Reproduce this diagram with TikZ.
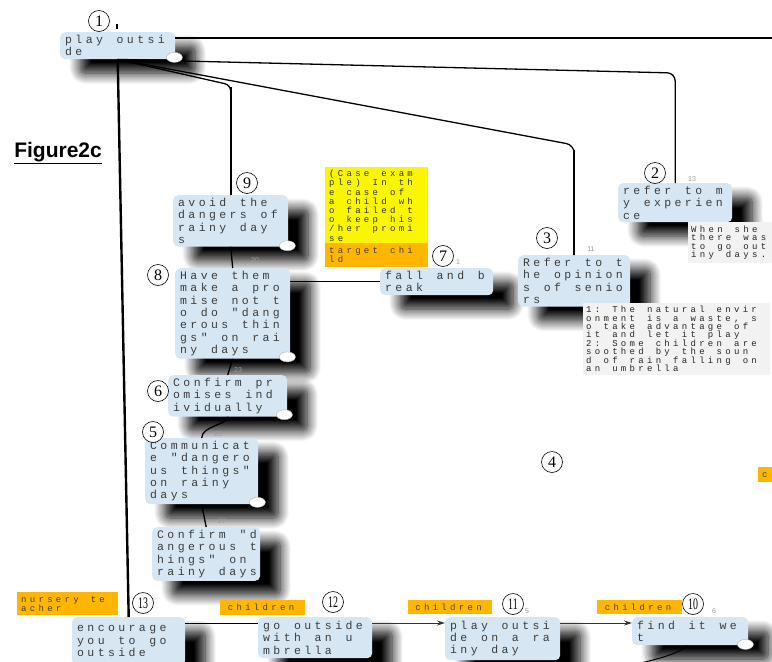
\documentclass[tikz,border=0pt]{standalone}
\usepackage{fontspec}
\usepackage{graphicx}
\usetikzlibrary{shadows.blur,arrows.meta,calc}
\setmainfont{Liberation Serif}
\newfontfamily\monofam{Liberation Mono}
\newfontfamily\labelsans{Liberation Sans}
\newfontfamily\numserif{Liberation Serif}

\definecolor{boxblue}{RGB}{214,231,243}
\definecolor{tagorange}{RGB}{255,182,0}
\definecolor{caseyellow}{RGB}{250,245,0}
\definecolor{notegrey}{RGB}{242,242,242}
\definecolor{inktext}{RGB}{60,60,60}

% Fixed-pitch cell typesetting: every character (spaces included) gets a
% cell of width #1; lines are separated by |.
\ExplSyntaxOn
\bool_new:N \l_cell_first_bool
\NewDocumentCommand\celltext{m m}{
  \seq_set_split:Nnn \l_tmpa_seq {|} {#2}
  \bool_set_true:N \l_cell_first_bool
  \seq_map_inline:Nn \l_tmpa_seq
    {
      \bool_if:NF \l_cell_first_bool { \\ }
      \bool_set_false:N \l_cell_first_bool
      \str_map_inline:nn {##1} { \makebox[#1][l]{####1} }
    }
}
\ExplSyntaxOff
\newcommand{\bt}[1]{\celltext{10.3pt}{#1}}
\newcommand{\st}[1]{\celltext{8.7pt}{#1}}

\tikzset{
  box/.style={rectangle, rounded corners=5pt, fill=boxblue, anchor=north west,
    align=left, inner xsep=5pt, inner ysep=3pt, text=inktext,
    font=\monofam\fontsize{11.5}{12.3}\selectfont,
    blur shadow={shadow xshift=20pt, shadow yshift=-14pt, shadow blur radius=11pt,
      shadow blur steps=14, shadow opacity=100}},
  tag/.style={rectangle, fill=tagorange, anchor=north west, align=left,
    inner xsep=4pt, inner ysep=1pt, text=black!75,
    font=\monofam\fontsize{9}{9}\selectfont},
  note/.style={rectangle, fill=notegrey, anchor=north west, align=left,
    inner xsep=3pt, inner ysep=3pt, text=black!85,
    font=\monofam\fontsize{9}{8.4}\selectfont},
  casebox/.style={rectangle, fill=caseyellow, anchor=north west, align=left,
    inner xsep=4pt, inner ysep=3pt, text=black!80,
    font=\monofam\fontsize{9}{9.2}\selectfont},
  circnum/.style={circle, draw=black, fill=white, line width=0.6pt,
    minimum size=21pt, inner sep=0pt, font=\numserif\fontsize{16}{16}\selectfont},
  gnum/.style={inner sep=0pt, text=black!40, font=\labelsans\fontsize{7}{7}\selectfont},
  link/.style={draw=black, line width=1.3pt},
  trunk/.style={draw=black, line width=2.4pt},
  flow/.style={draw=black!80, line width=1pt, -{Stealth[length=8pt,width=5pt]}},
  knob/.style={fill=white, draw=black!30, line width=0.4pt},
}

\newcommand{\twodig}[1]{\scalebox{0.62}[1]{#1}}

\begin{document}
\begin{tikzpicture}[x=1pt,y=-1pt]
\useasboundingbox (0,0) rectangle (772,662);
\clip (0,0) rectangle (772,662);

% caption
\node[anchor=base east, inner sep=0pt, font=\labelsans\bfseries\fontsize{21}{21}\selectfont]
  (fig) at (102,157) {\underline{Figure2c}};

% action boxes
\node[box, text width=105pt, minimum height=27pt] (n1) at (60,32) {\bt{play outsi|de}};
\node[box, text width=105pt, minimum height=50pt] (n9) at (173,195) {\bt{avoid the|dangers of|rainy day|s}};
\node[box, text width=105pt, minimum height=85pt] (n8) at (175,268)
  {\bt{Have them|make a pro|mise not t|o do "dang|erous thin|gs" on rai|ny days}};
\node[box, text width=103pt, minimum height=27pt] (n7) at (380,268) {\bt{fall and b|reak}};
\node[box, text width=102pt, minimum height=48pt] (n3) at (518,255) {\bt{Refer to t|he opinion|s of senio|rs}};
\node[box, text width=104pt, minimum height=39pt] (n2) at (618,183) {\bt{refer to m|y experien|ce}};
\node[box, text width=109pt, minimum height=39pt] (n6) at (168,375) {\bt{Confirm pr|omises ind|ividually}};
\node[box, text width=103pt, minimum height=63pt] (n5) at (145,438)
  {\bt{Communicat|e "dangero|us things"|on rainy|days}};
\node[box, text width=98pt, minimum height=47pt] (n27) at (152,527)
  {\bt{Confirm "d|angerous t|hings" on|rainy days}};
\node[box, text width=103pt, minimum height=48pt] (n13) at (72,617) {\bt{encourage|you to go|outside}};
\node[box, text width=104pt, minimum height=41pt] (n12) at (258,617) {\bt{go outside|with an u|mbrella}};
\node[box, text width=105pt, minimum height=43pt] (n11) at (445,617) {\bt{play outsi|de on a ra|iny day}};
\node[box, text width=106pt, minimum height=28pt] (n10) at (632,617) {\bt{find it we|t}};

% case note and actor tags
\node[casebox, text width=95pt, minimum height=76pt] (case) at (325,167)
  {\st{(Case exam|ple) In th|e case of|a child wh|o failed t|o keep his|/her promi|se}};
\node[tag, text width=95pt, minimum height=24pt, inner ysep=3pt] (target) at (325,243) {\st{target chi|ld}};
\node[tag, text width=93pt, minimum height=23pt] (nursery) at (17,592) {\st{nursery te|acher}};
\node[tag, minimum width=85pt, minimum height=15pt] (kid12) at (220,600) {\st{children}};
\node[tag, minimum width=84pt, minimum height=14pt] (kid11) at (408,600) {\st{children}};
\node[tag, minimum width=85pt, minimum height=14pt] (kid10) at (597,600) {\st{children}};
\node[tag, text width=30pt, minimum height=15pt] (kidR) at (758,467) {\st{c}};

% comment notes
\node[note, text width=181pt, minimum height=69pt] (note3) at (583,303)
  {\st{1: The natural envir|onment is a waste, s|o take advantage of|it and let it play|2: Some children are|soothed by the soun|d of rain falling on|an umbrella}};
\node[note, text width=100pt, minimum height=41pt] (note2) at (688,222)
  {\st{When she|there was|to go out|iny days.}};

% connectors
\coordinate (edgeR) at (790,38);
\draw[link] (n1.east |- edgeR) -- (edgeR);
\draw[link, rounded corners=8pt] (n1.south) -- ($(n2.north)+(0,-110)$) -- (n2.north);
\draw[link, rounded corners=8pt] (n1.south) -- ($(n3.north)+(0,-110)$) -- (n3.north);
\draw[link, rounded corners=6pt] (n1.south) -- ($(n9.north)+(0,-110)$) -- (n9.north);
\draw[trunk] ($(n9.north)+(0,-108)$) -- (n9.north);
\draw[trunk] ($(n3.north)+(0,-105)$) -- (n3.north);
\draw[trunk] (n1.south) -- (n13.north);
\draw[link] (n9.south) -- (n8.north);
\draw[link] (n7.west) -- (n7.west -| n8.east);
\draw[link] (n8.south) -- (n6.north);
\draw[link] (n6.south) .. controls +(0,8) and +(0,-12) .. (n5.north);
\draw[link] (n5.south) -- (n27.north);
\draw[link, line width=1pt] ($(n13.north east)+(0,6)$) -- ($(n12.north west)+(0,6)$);
\draw[flow] ($(n12.north east)+(0,6)$) -- ($(n11.north west)+(0,6)$);
\draw[flow] ($(n11.north east)+(0,6)$) -- ($(n10.north west)+(0,6)$);
\coordinate (tail) at (598,672);
\draw[link, line width=1pt] ($(n10.south east)+(-62,0)$) .. controls +(-6,10) and +(40,-8) .. (tail);

% corner knobs
\foreach \n/\dx/\dy in {n1/-1/-2, n9/-1/-1, n8/-3/-2, n6/-3/-2, n5/-1/-2, n10/-3/-1}
  \path[knob] ($(\n.south east)+(\dx,\dy)$) ellipse (8pt and 5pt);

% sequence numbers
\node[gnum] (g20) at (255,260) {20};
\node[gnum] (g23) at (238,370) {23};
\node[gnum] (g25) at (218,434) {25};
\node[gnum] (g27) at (222,521) {27};
\node[gnum] (g11) at (591,249) {11};
\node[gnum] (g13) at (692,179) {13};
\node[gnum] (g21) at (458,262) {1};
\node[gnum] (g15) at (527,611) {5};
\node[gnum] (g16) at (714,611) {6};
\draw[line width=1.5pt] (117,24) -- (117,29);

% circled markers
\node[circnum] (c1) at (99,21) {1};
\node[circnum] (c2) at (655,173) {2};
\node[circnum] (c3) at (547,238) {3};
\node[circnum] (c4) at (552,462) {4};
\node[circnum] (c5) at (153,432) {5};
\node[circnum] (c6) at (158,391) {6};
\node[circnum] (c7) at (443,256) {7};
\node[circnum] (c8) at (158,275) {8};
\node[circnum] (c9) at (247,183) {9};
\node[circnum] (c10) at (693,604) {\twodig{10}};
\node[circnum] (c11) at (513,604) {\twodig{11}};
\node[circnum] (c12) at (333,602) {\twodig{12}};
\node[circnum] (c13) at (143,603) {\twodig{13}};
\end{tikzpicture}
\end{document}
